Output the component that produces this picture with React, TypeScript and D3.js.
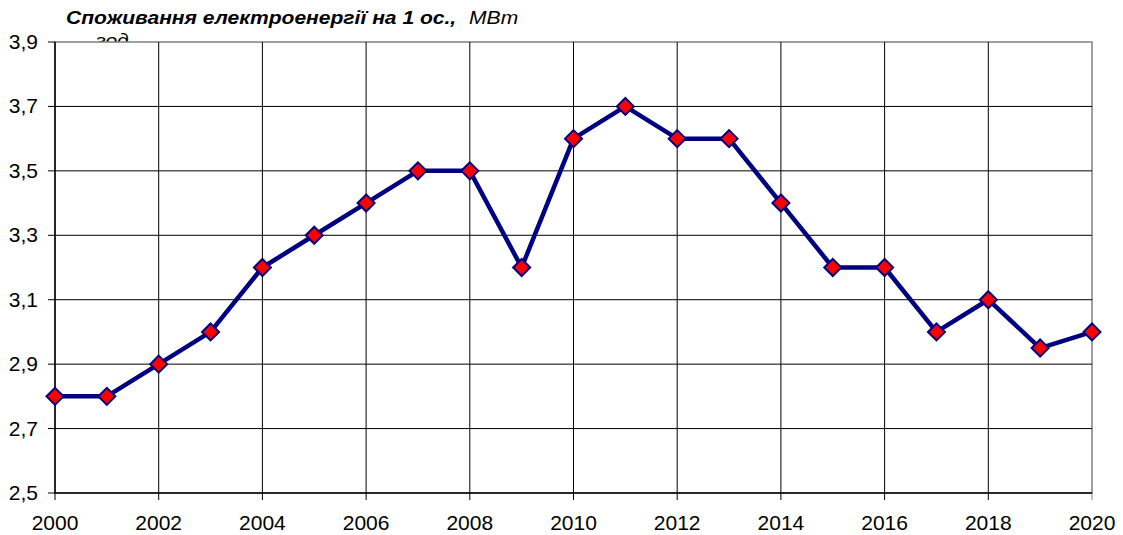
import React from "react";
import * as d3 from "d3";

const years = [2000, 2001, 2002, 2003, 2004, 2005, 2006, 2007, 2008, 2009, 2010, 2011, 2012, 2013, 2014, 2015, 2016, 2017, 2018, 2019, 2020];
const values = [2.8, 2.8, 2.9, 3.0, 3.2, 3.3, 3.4, 3.5, 3.5, 3.2, 3.6, 3.7, 3.6, 3.6, 3.4, 3.2, 3.2, 3.0, 3.1, 2.95, 3.0];
const yTicks = [2.5, 2.7, 2.9, 3.1, 3.3, 3.5, 3.7, 3.9];
const xTicks = [2000, 2002, 2004, 2006, 2008, 2010, 2012, 2014, 2016, 2018, 2020];
const titleBold = "Споживання електроенергії на 1 ос.,";
const titleUnit = "МВт";
const titleUnit2 = "год";

export default function App() {
  const W = 1123, H = 535;
  const left = 55, right = 1092, top = 42, bottom = 493;
  const x = d3.scaleLinear().domain([2000, 2020]).range([left, right]);
  const y = d3.scaleLinear().domain([2.5, 3.9]).range([bottom, top]);
  const line = d3.line<number>().x((_, i) => x(years[i])).y((v) => y(v));
  const fmt = (v: number) => v.toFixed(1).replace(".", ",");
  const font = "'Liberation Sans', Arial, sans-serif";
  const s = 8.5;
  return (
    <svg width={W} height={H} style={{ position: "absolute", left: 0, top: 0, fontFamily: font }}>
      <rect x={0} y={0} width={W} height={H} fill="#fff" />
      <g transform="translate(66,24) scale(1.17,1)">
        <text x={0} y={0} fontSize={18} fontStyle="italic">
          <tspan fontWeight="bold">{titleBold}</tspan>
          <tspan dx={11}>{titleUnit}</tspan>
        </text>
        <text x={25} y={23} fontSize={18} fontStyle="italic">{titleUnit2}</text>
      </g>
      <rect x={left} y={top} width={right - left} height={bottom - top} fill="#fff" stroke="#808080" strokeWidth={1.5} />
      {yTicks.map((t) => (
        <g key={"y" + t}>
          {t > 2.5 && t < 3.9 && <line x1={left} x2={right} y1={y(t)} y2={y(t)} stroke="#000" strokeWidth={1} />}
          <line x1={left - 7} x2={left} y1={y(t)} y2={y(t)} stroke="#000" strokeWidth={1} />
          <text x={38} y={y(t) + 7} fontSize={21} textAnchor="end">{fmt(t)}</text>
        </g>
      ))}
      {xTicks.map((t) => (
        <g key={"x" + t}>
          {t > 2000 && t < 2020 && <line x1={x(t)} x2={x(t)} y1={top} y2={bottom} stroke="#000" strokeWidth={1} />}
          <line x1={x(t)} x2={x(t)} y1={bottom} y2={bottom + 7} stroke={t === 2020 ? "#808080" : "#000"} strokeWidth={1} />
          <text x={x(t)} y={530} fontSize={21} textAnchor="middle">{t}</text>
        </g>
      ))}
      <line x1={left} x2={left} y1={top} y2={bottom} stroke="#000" strokeWidth={1.5} />
      <line x1={left} x2={right} y1={bottom} y2={bottom} stroke="#000" strokeWidth={1.5} />
      <path d={line(values) || ""} fill="none" stroke="#000080" strokeWidth={4.5} strokeLinejoin="round" />
      {values.map((v, i) => {
        const cx = x(years[i]), cy = y(v);
        return (
          <path key={i} d={`M${cx},${cy - s}L${cx + s},${cy}L${cx},${cy + s}L${cx - s},${cy}Z`} fill="#ff0000" stroke="#000080" strokeWidth={2} />
        );
      })}
    </svg>
  );
}
